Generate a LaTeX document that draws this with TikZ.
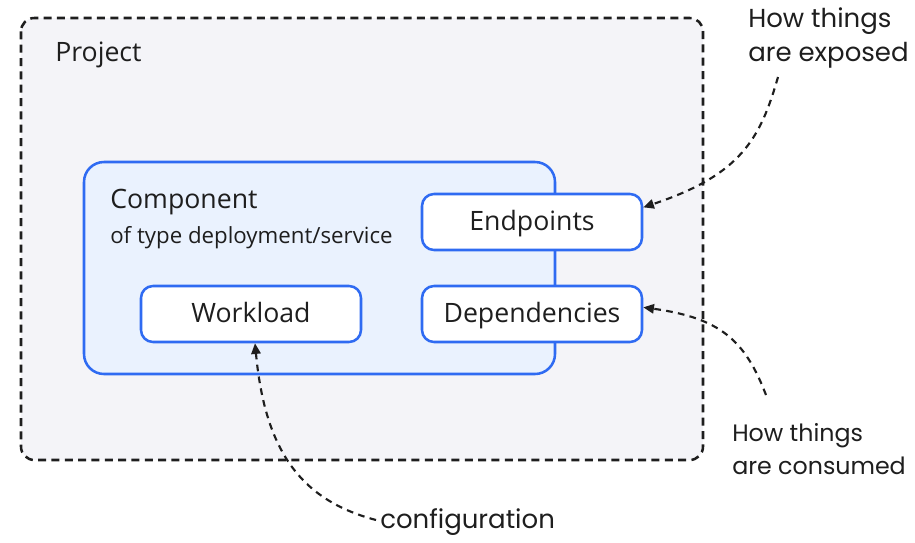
\documentclass[tikz,border=0pt]{standalone}
\usepackage{fontspec}
\setmainfont{Open Sans}
\newfontfamily\handfont{Poppins}
\usetikzlibrary{arrows.meta}
\definecolor{projfill}{HTML}{F4F4F8}
\definecolor{compfill}{HTML}{EAF2FE}
\definecolor{blueline}{HTML}{2F6BF2}
\definecolor{inkblack}{HTML}{1E1E1E}
\tikzset{
  px/.style={x=0.75pt,y=-0.75pt},
  projbox/.style={draw=inkblack, fill=projfill, line width=1.9pt, dash pattern=on 6pt off 4pt, rounded corners=10pt},
  compbox/.style={draw=blueline, fill=compfill, line width=1.9pt, rounded corners=15pt},
  itembox/.style={draw=blueline, fill=white, line width=1.9pt, rounded corners=9pt, minimum width=165pt, minimum height=42pt, inner sep=0pt, text height=14.5pt, text depth=1.5pt, font=\fontsize{20}{22}\selectfont, text=inkblack},
  plainlabel/.style={inner sep=0pt, anchor=west, text=inkblack},
  handlabel/.style={inner sep=0pt, anchor=west, text=inkblack, align=left, font=\handfont\fontsize{19.5}{26}\selectfont},
  note/.style={draw=inkblack, line width=1.6pt, dash pattern=on 5pt off 4pt, -{Triangle[length=8pt,width=7pt]}}
}
\begin{document}
\begin{tikzpicture}[px]
\useasboundingbox (0,0) rectangle (915,543);
% project container
\draw[projbox] (21,18) rectangle (703,460);
\node[plainlabel, font=\fontsize{20}{22}\selectfont] (project) at (55,55) {Project};
% component container
\draw[compbox] (84,162) rectangle (555,374);
\node[plainlabel, font=\fontsize{20}{22}\selectfont] (comp) at (110,202) {Component};
\node[plainlabel, font=\fontsize{16.7}{19}\selectfont] (comptype) at (110,238) {of type deployment/service};
% items
\node[itembox] (endpoints) at (532,222) {Endpoints};
\node[itembox] (deps) at (532,314) {Dependencies};
\node[itembox] (workload) at (251,314) {Workload};
% notes
\node[handlabel] (exposed) at (748,38) {How things\\are exposed};
\node[handlabel, font=\handfont\fontsize{17.8}{25}\selectfont] (consumed) at (732,449) {How things\\are consumed};
\node[handlabel] (config) at (380,522) {configuration};
\coordinate (e0) at (778,77);
\coordinate (c0) at (766,395);
\coordinate (g0) at (376,520);
\draw[note] (e0) .. controls (760,140) and (740,175) .. ([yshift=11]endpoints.east);
\draw[note] (c0) .. controls (745,340) and (720,318) .. ([yshift=5]deps.east);
\draw[note] (g0) .. controls (300,500) and (265,450) .. ([xshift=3]workload.south);
\end{tikzpicture}
\end{document}
